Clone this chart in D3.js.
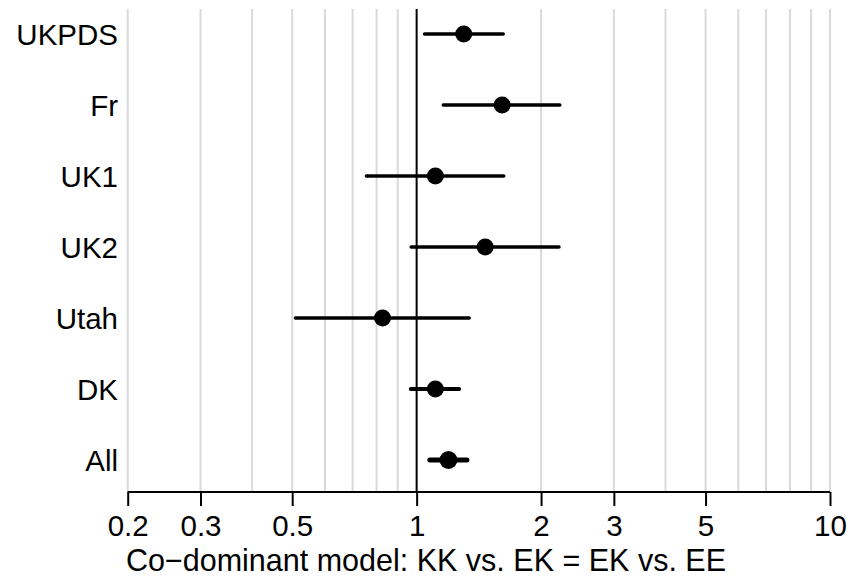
<!DOCTYPE html>
<html>
<head>
<meta charset="utf-8">
<script src="https://cdn.jsdelivr.net/npm/d3@7"></script>
<style>
body { margin: 0; background: #fff; }
text { font-family: "Liberation Sans", Arial, sans-serif; }
</style>
</head>
<body>
<svg id="chart" width="850" height="582"></svg>
<script>
const studies = ["UKPDS", "Fr", "UK1", "UK2", "Utah", "DK", "All"];
const estimates = [1.30, 1.61, 1.11, 1.465, 0.827, 1.11, 1.194];
const lower = [1.045, 1.16, 0.756, 0.97, 0.509, 0.968, 1.076];
const upper = [1.62, 2.22, 1.625, 2.21, 1.34, 1.267, 1.323];
const lineWidths = [3.5, 3.5, 3.5, 3.5, 3.5, 4, 5];
const tickValues = [0.2, 0.3, 0.5, 1, 2, 3, 5, 10];
const tickLabels = ["0.2", "0.3", "0.5", "1", "2", "3", "5", "10"];
const gridValues = [0.2, 0.3, 0.4, 0.5, 0.6, 0.7, 0.8, 0.9, 2, 3, 4, 5, 6, 7, 8, 9, 10];
const xLabel = "Co\u2212dominant model: KK vs. EK = EK vs. EE";

const svg = d3.select("#chart");
const x = d3.scaleLog().domain([0.2, 10]).range([127.7, 830]);
const y = d3.scalePoint().domain(studies).range([34, 460]);
const plotTop = 9, axisY = 492;

// grid lines
svg.append("g").selectAll("line").data(gridValues).join("line")
  .attr("x1", d => x(d)).attr("x2", d => x(d))
  .attr("y1", plotTop).attr("y2", axisY)
  .attr("stroke", "#d9d9d9").attr("stroke-width", 2);

// reference line at 1
svg.append("line")
  .attr("x1", x(1)).attr("x2", x(1))
  .attr("y1", plotTop).attr("y2", axisY)
  .attr("stroke", "#000").attr("stroke-width", 2);

// CIs
svg.append("g").selectAll("line").data(studies).join("line")
  .attr("x1", (d, i) => x(lower[i])).attr("x2", (d, i) => x(upper[i]))
  .attr("y1", d => y(d)).attr("y2", d => y(d))
  .attr("stroke", "#000").attr("stroke-width", (d, i) => lineWidths[i])
  .attr("stroke-linecap", "round");

// points
svg.append("g").selectAll("circle").data(studies).join("circle")
  .attr("cx", (d, i) => x(estimates[i])).attr("cy", d => y(d))
  .attr("r", (d, i) => i === 6 ? 9 : 8.5).attr("fill", "#000");

// y labels
svg.append("g").selectAll("text").data(studies).join("text")
  .attr("x", 118).attr("y", d => y(d))
  .attr("dy", "0.36em")
  .attr("text-anchor", "end")
  .attr("font-size", 29.5)
  .attr("fill", "#000")
  .text(d => d);

// x axis
const axis = d3.axisBottom(x).tickValues(tickValues)
  .tickFormat((d, i) => tickLabels[i]).tickSize(14).tickPadding(9);
const ag = svg.append("g").attr("transform", `translate(0,${axisY})`).call(axis);
ag.select(".domain").attr("stroke", "#000").attr("stroke-width", 2)
  .attr("d", `M${x(0.2)},0H${x(10)}`);
ag.selectAll(".tick line").attr("stroke", "#000").attr("stroke-width", 2);
ag.selectAll(".tick text").attr("font-size", 29.5).attr("fill", "#000")
  .attr("font-family", "Liberation Sans, Arial, sans-serif");

svg.append("text")
  .attr("x", 426).attr("y", 571)
  .attr("text-anchor", "middle")
  .attr("font-size", 30.5).attr("fill", "#000")
  .text(xLabel);
</script>
</body>
</html>
